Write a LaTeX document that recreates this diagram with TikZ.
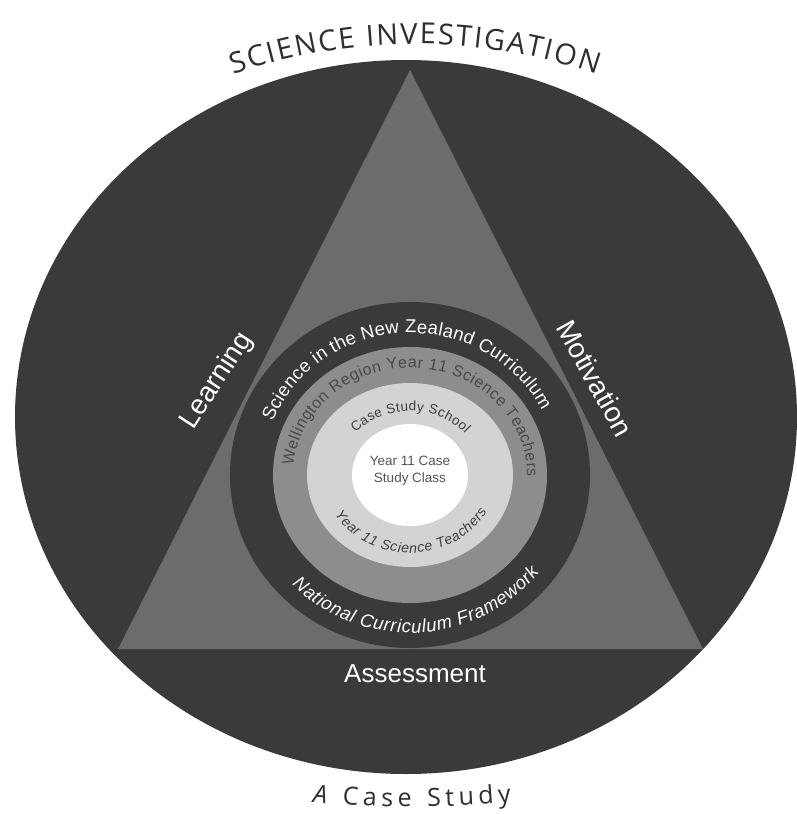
\documentclass[tikz,border=0pt]{standalone}
\usepackage{fontspec}
\setmainfont{Liberation Sans}
\newfontfamily\titlefont{Open Sans}
\usetikzlibrary{decorations.text}

\definecolor{outerdark}{HTML}{3A3A3A}
\definecolor{trigray}{HTML}{6C6C6C}
\definecolor{ringgray}{HTML}{8D8D8D}
\definecolor{ringlight}{HTML}{D3D3D3}
\definecolor{titletext}{HTML}{2E2E2E}
\definecolor{ringtext}{HTML}{484848}
\definecolor{coretext}{HTML}{3E3E3E}
\definecolor{classtext}{HTML}{555555}

\tikzset{
  bigword/.style={text=white, inner sep=0pt, font=\fontsize{28}{30}\selectfont},
  curved/.style={decorate, decoration={text along path, text align=fit to path, text color=#1}},
}

\begin{document}
\begin{tikzpicture}[x=1pt,y=1pt]
\useasboundingbox (0,0) rectangle (796,-814);

% outer field and the triangle
\fill[outerdark] (406,-417) ellipse [x radius=391, y radius=357];
\fill[trigray] (410,-70) -- (703,-649) -- (118,-649) -- cycle;

% nested rings
\fill[outerdark] (410,-475) ellipse [x radius=180, y radius=173];
\fill[ringgray]  (410,-475) ellipse [x radius=137, y radius=128];
\fill[ringlight] (410,-475) ellipse [x radius=103, y radius=92];
\fill[white]     (410,-475) ellipse [x radius=58, y radius=51];

% title arcs
\path[shift={(415,-602)}, curved=titletext,
  decoration={text={|\titlefont\fontsize{29}{31}\selectfont|SCIENCE INVESTIGATION}}]
  (109:558) arc[start angle=109, end angle=71, radius=558];
\path[shift={(412,193)}, curved=titletext,
  decoration={text={|\titlefont\fontsize{25}{27}\selectfont\itshape|A|\titlefont\fontsize{25}{27}\selectfont\upshape| Case Study}}]
  (264.3:1000) arc[start angle=264.3, end angle=275.7, radius=1000];

% ring labels
\path[shift={(410,-475)}, curved=white,
  decoration={text={|\fontsize{18.5}{20}\selectfont|Science in the New Zealand Curriculum}}]
  (158:148 and 142) arc[start angle=158, end angle=27, x radius=148, y radius=142];
\path[shift={(410,-475)}, curved=white,
  decoration={text={|\fontsize{18.5}{20}\selectfont\itshape|National Curriculum Framework}}]
  (224:164 and 158) arc[start angle=224, end angle=322, x radius=164, y radius=158];
\path[shift={(410,-475)}, curved=ringtext,
  decoration={text={|\fontsize{16}{18}\selectfont|Wellington Region Year 11 Science Teachers}}]
  (175:117 and 107) arc[start angle=175, end angle=-1, x radius=117, y radius=107];
\path[shift={(410,-475)}, curved=coretext,
  decoration={text={|\fontsize{13.5}{15}\selectfont|Case Study School}}]
  (139:72 and 64) arc[start angle=139, end angle=40, x radius=72, y radius=64];
\path[shift={(410,-475)}, curved=coretext,
  decoration={text={|\fontsize{14}{16}\selectfont\itshape|Year 11 Science Teachers}}]
  (210:87 and 78) arc[start angle=210, end angle=332, x radius=87, y radius=78];

% core and the three sides
\node[align=center, text=classtext, font=\fontsize{13.5}{17}\selectfont] (coreclass) at (410,-471) {Year 11 Case\\Study Class};
\node[bigword, rotate=57] (learning) at (217,-381) {Learning};
\node[bigword, rotate=-61] (motivation) at (595,-378) {Motivation};
\node[bigword, anchor=base, font=\fontsize{26}{28}\selectfont] (assessment) at (415,-682) {Assessment};
\end{tikzpicture}
\end{document}
